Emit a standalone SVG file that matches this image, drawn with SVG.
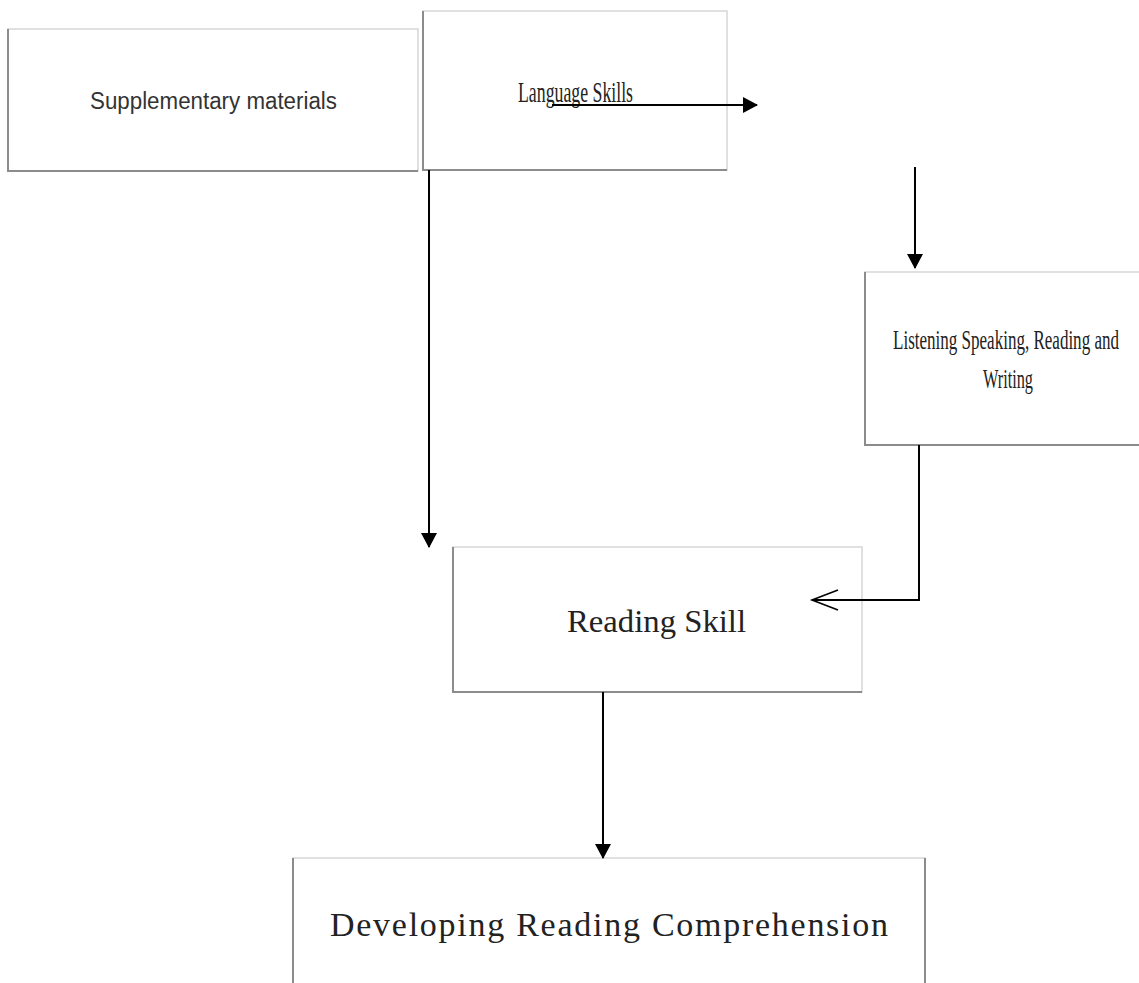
<svg xmlns="http://www.w3.org/2000/svg" width="1139" height="983" viewBox="0 0 1139 983">
<style>
.box{fill:#fff;stroke:#d6d6d6;stroke-width:1.5}
.edge{stroke:#8c8c8c;stroke-width:2;fill:none}
.serif{font-family:"Liberation Serif","Times New Roman",serif;fill:#222}
.sans{font-family:"Liberation Sans",Arial,sans-serif;fill:#333}
.conn{stroke:#000;stroke-width:2;fill:none}
</style>
<defs>
<marker id="tri" markerWidth="16" markerHeight="16" refX="14" refY="8" orient="auto" markerUnits="userSpaceOnUse">
<path d="M0,0 L15,8 L0,16 Z" fill="#000"/>
</marker>
<marker id="open" markerWidth="30" markerHeight="24" refX="27" refY="12" orient="auto" markerUnits="userSpaceOnUse">
<path d="M1,2 L27,12 L1,22" fill="none" stroke="#000" stroke-width="1.6"/>
</marker>
</defs>
<rect width="1139" height="983" fill="#fff"/>
<g id="node-supplementary">
<rect class="box" x="8" y="29" width="410" height="142"/>
<path class="edge" d="M8,29 V171 H418"/>
<text class="sans" x="90" y="109" font-size="23" textLength="247" lengthAdjust="spacingAndGlyphs">Supplementary materials</text>
</g>
<g id="node-language">
<rect class="box" x="423" y="11" width="304" height="159"/>
<path class="edge" d="M423,11 V170 H727"/>
<text class="serif" x="518" y="102" font-size="29" textLength="115" lengthAdjust="spacingAndGlyphs">Language Skills</text>
</g>
<g id="node-listening">
<rect class="box" x="865" y="272" width="290" height="173"/>
<path class="edge" d="M865,272 V445 H1139"/>
<text class="serif" transform="translate(893,349) scale(0.63,1)" x="0" y="0" font-size="27" textLength="358.7" lengthAdjust="spacingAndGlyphs">Listening Speaking, Reading and</text>
<text class="serif" transform="translate(983,388) scale(0.63,1)" x="0" y="0" font-size="27" textLength="79.4" lengthAdjust="spacingAndGlyphs">Writing</text>
</g>
<g id="node-reading">
<rect class="box" x="453" y="547" width="409" height="145"/>
<path class="edge" d="M453,547 V692 H862"/>
<text class="serif" x="567" y="632" font-size="32" textLength="179" lengthAdjust="spacingAndGlyphs">Reading Skill</text>
</g>
<g id="node-developing">
<path d="M293,990 V858 H925 V990" fill="#fff" stroke="#d6d6d6" stroke-width="1.5"/>
<path class="edge" d="M293,858 V990 M925,858 V990"/>
<text class="serif" x="330" y="936" font-size="34" textLength="558" lengthAdjust="spacing">Developing Reading Comprehension</text>
</g>
<g id="connectors">
<line class="conn" x1="552" y1="105" x2="757" y2="105" marker-end="url(#tri)"/>
<line class="conn" x1="429" y1="170" x2="429" y2="547" marker-end="url(#tri)"/>
<line class="conn" x1="915" y1="167" x2="915" y2="268" marker-end="url(#tri)"/>
<polyline class="conn" points="919,445 919,600 812,600" marker-end="url(#open)"/>
<line class="conn" x1="603" y1="692" x2="603" y2="858" marker-end="url(#tri)"/>
</g>
</svg>
